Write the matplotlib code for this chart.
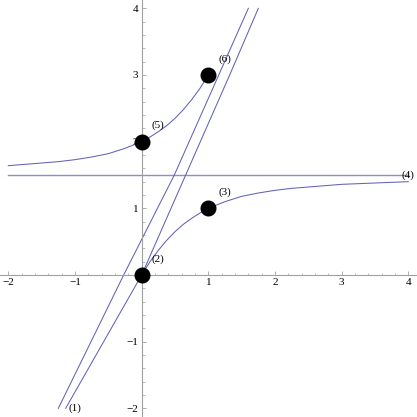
import matplotlib
matplotlib.use("Agg")
from matplotlib import pyplot as plt
from matplotlib.ticker import MultipleLocator

# values
lowerX = [0, 0.125, 0.25, 0.375, 0.5, 0.625, 0.75, 0.875, 1, 1.25, 1.5, 1.75, 2, 2.25, 2.5, 2.75, 3, 3.5, 4]
lowerY = [0, 0.2, 0.37, 0.52, 0.65, 0.76, 0.85, 0.93, 1.0, 1.1, 1.18, 1.23, 1.27, 1.3, 1.32, 1.34, 1.36, 1.38, 1.4]
upperX = [-2, -1.75, -1.5, -1.25, -1, -0.75, -0.5, -0.25, 0, 0.125, 0.25, 0.375, 0.5, 0.625, 0.75, 0.875, 1]
upperY = [1.64, 1.66, 1.68, 1.7, 1.73, 1.77, 1.82, 1.9, 2.0, 2.07, 2.15, 2.24, 2.35, 2.48, 2.63, 2.8, 3.0]
asymX = [-2, 4]
asymY = [1.5, 1.5]
leftLineX = [-1.25, -0.27, 0.49, 1.6]
leftLineY = [-2, 0, 1.5, 4]
rightLineX = [-1.14, 0, 1.32, 1.75]
rightLineY = [-2, 0, 3, 4]
pointsX = [0, 1, 0, 1]
pointsY = [0, 1, 2, 3]
labels = ["(1)", "(2)", "(3)", "(4)", "(5)", "(6)"]
labelX = [-1.0, 0.25, 1.25, 4.0, 0.25, 1.25]
labelY = [-2.0, 0.24, 1.24, 1.5, 2.24, 3.24]

lineColor = "#6262b8"
fig = plt.figure(figsize=(4.17, 4.17), dpi=100)
ax = fig.add_axes([0, 0, 1, 1])

ax.plot(lowerX, lowerY, color=lineColor, lw=0.75)
ax.plot(upperX, upperY, color=lineColor, lw=0.75)
ax.plot(asymX, asymY, color="#8e8ecc", lw=1.0)
ax.plot(leftLineX, leftLineY, color=lineColor, lw=0.75)
ax.plot(rightLineX, rightLineY, color=lineColor, lw=0.75)
ax.plot(pointsX, pointsY, "o", color="black", markersize=10.5, zorder=5)

for t, x, y in zip(labels, labelX, labelY):
    ax.text(x, y, t, fontsize=8, family="Liberation Serif", ha="center", va="center", zorder=6)

ax.set_xlim(-2.125, 4.13)
ax.set_ylim(-2.13, 4.125)

for side in ["top", "right"]:
    ax.spines[side].set_visible(False)
ax.spines["left"].set_position(("data", 0))
ax.spines["bottom"].set_position(("data", 0))
for side in ["left", "bottom"]:
    ax.spines[side].set_color("#a0a0a0")
    ax.spines[side].set_linewidth(0.8)

ax.set_xticks([-2, -1, 1, 2, 3, 4])
ax.set_yticks([-2, -1, 1, 2, 3, 4])
ax.xaxis.set_minor_locator(MultipleLocator(0.2))
ax.yaxis.set_minor_locator(MultipleLocator(0.2))
ax.set_xticklabels(["\u22122", "\u22121", "1", "2", "3", "4"], family="Liberation Serif", fontsize=8)
ax.set_yticklabels(["\u22122", "\u22121", "1", "2", "3", "4"], family="Liberation Serif", fontsize=8)
ax.tick_params(which="major", direction="in", length=3.2, width=0.6, color="#a0a0a0", pad=2.5)
ax.tick_params(which="minor", direction="in", length=1.8, width=0.5, color="#a0a0a0")
ax.patch.set_visible(False)

plt.savefig("out.png")
